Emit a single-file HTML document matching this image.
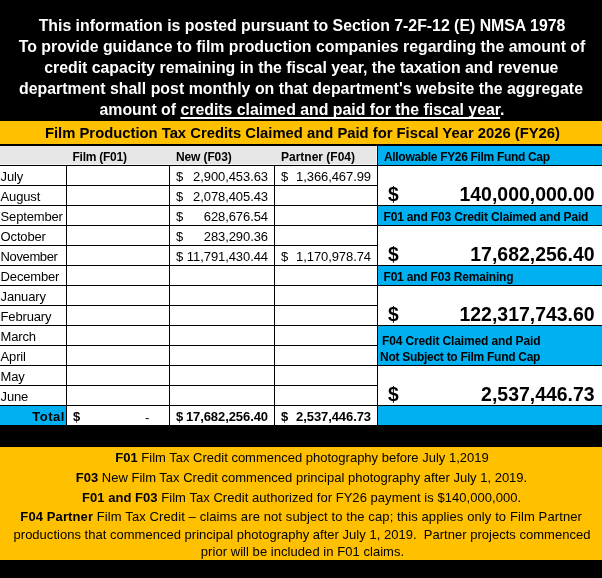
<!DOCTYPE html>
<html><head><meta charset="utf-8">
<style>
html,body{margin:0;padding:0;background:#000;}
body{width:602px;height:578px;position:relative;overflow:hidden;font-family:"Liberation Sans",Arial,sans-serif;color:#000;}
.a{position:absolute;white-space:pre;line-height:1;}
.hl{position:absolute;background:#000;height:1px;}
.vl{position:absolute;background:#000;width:1px;}
.t{color:#fff;font-weight:bold;font-size:15.85px;left:1px;width:602px;text-align:center;}
.m{font-size:13px;left:0.6px;letter-spacing:-0.16px;}
.n{font-size:13px;text-align:right;letter-spacing:-0.08px;}
.d{font-size:13px;}
.h{font-weight:bold;font-size:12px;}
.bl{font-weight:bold;font-size:12px;left:384px;}
.bd{font-weight:bold;font-size:19.3px;left:388px;}
.bn{font-weight:bold;font-size:19.45px;text-align:right;right:7.4px;}
.f{font-size:13px;left:0;width:602px;text-align:center;}
b{font-weight:bold;}
</style></head><body>
<!-- title -->
<div class="a t" style="top:18px">This information is posted pursuant to Section 7-2F-12 (E) NMSA 1978</div>
<div class="a t" style="top:39px">To provide guidance to film production companies regarding the amount of</div>
<div class="a t" style="top:60px;left:0.3px">credit capacity remaining in the fiscal year, the taxation and revenue</div>
<div class="a t" style="top:81px;left:0;letter-spacing:0.03px">department shall post monthly on that department's website the aggregate</div>
<div class="a t" style="top:102px">amount of <span style="text-decoration:underline;text-decoration-thickness:2px;text-underline-offset:2px;text-decoration-skip-ink:none">credits claimed and paid for the fiscal year</span>.</div>
<!-- yellow title -->
<div class="a" style="left:0;top:121px;width:602px;height:23px;background:#FFC000"></div>
<div class="a" style="left:0;top:125.6px;width:605px;text-align:center;font-weight:bold;font-size:14.8px">Film Production Tax Credits Claimed and Paid for Fiscal Year 2026 (FY26)</div>
<!-- table bg -->
<div class="a" style="left:0;top:146px;width:602px;height:279px;background:#fff"></div>
<div class="a" style="left:0;top:146px;width:377px;height:19px;background:#F5F4F4"></div>
<div class="a" style="left:0;top:146px;width:376px;height:18px;background:#E7E6E6"></div>
<!-- blue -->
<div class="a" style="left:378px;top:146px;width:224px;height:19px;background:#00B0F0"></div>
<div class="a" style="left:378px;top:206px;width:224px;height:19px;background:#00B0F0"></div>
<div class="a" style="left:378px;top:266px;width:224px;height:19px;background:#00B0F0"></div>
<div class="a" style="left:378px;top:326px;width:224px;height:39px;background:#00B0F0"></div>
<div class="a" style="left:378px;top:406px;width:224px;height:19px;background:#00B0F0"></div>
<div class="a" style="left:0;top:406px;width:66px;height:19px;background:#00B0F0"></div>
<!-- grid lines -->
<div class="vl" style="left:66px;top:166px;height:259px"></div>
<div class="vl" style="left:169px;top:166px;height:259px"></div>
<div class="vl" style="left:274px;top:166px;height:259px"></div>
<div class="vl" style="left:377px;top:146px;height:279px"></div>
<div class="hl" style="left:0;top:165px;width:602px"></div>
<div class="hl" style="left:0;top:185px;width:377px"></div>
<div class="hl" style="left:0;top:205px;width:602px"></div>
<div class="hl" style="left:0;top:225px;width:602px"></div>
<div class="hl" style="left:0;top:245px;width:377px"></div>
<div class="hl" style="left:0;top:265px;width:602px"></div>
<div class="hl" style="left:0;top:285px;width:602px"></div>
<div class="hl" style="left:0;top:305px;width:377px"></div>
<div class="hl" style="left:0;top:325px;width:602px"></div>
<div class="hl" style="left:0;top:345px;width:377px"></div>
<div class="hl" style="left:0;top:365px;width:602px"></div>
<div class="hl" style="left:0;top:385px;width:377px"></div>
<div class="hl" style="left:0;top:405px;width:602px"></div>
<!-- header labels -->
<div class="a h" style="left:72.5px;top:151px;letter-spacing:-0.25px">Film (F01)</div>
<div class="a h" style="left:176px;top:151px;letter-spacing:-0.12px">New (F03)</div>
<div class="a h" style="left:281px;top:151px">Partner (F04)</div>
<!-- months -->
<div class="a m" style="top:170px">July</div>
<div class="a m" style="top:190px">August</div>
<div class="a m" style="top:210px">September</div>
<div class="a m" style="top:230px">October</div>
<div class="a m" style="top:250px;letter-spacing:-0.38px">November</div>
<div class="a m" style="top:270px">December</div>
<div class="a m" style="top:290px">January</div>
<div class="a m" style="top:310px">February</div>
<div class="a m" style="top:330px">March</div>
<div class="a m" style="top:350px">April</div>
<div class="a m" style="top:370px">May</div>
<div class="a m" style="top:390px">June</div>
<div class="a m" style="top:410px;font-weight:bold;left:32.3px;letter-spacing:0.5px">Total</div>
<!-- New column -->
<div class="a d" style="left:176px;top:170px">$</div><div class="a n" style="left:170px;width:98px;top:170px">2,900,453.63</div>
<div class="a d" style="left:176px;top:190px">$</div><div class="a n" style="left:170px;width:98px;top:190px">2,078,405.43</div>
<div class="a d" style="left:176px;top:210px">$</div><div class="a n" style="left:170px;width:98px;top:210px">628,676.54</div>
<div class="a d" style="left:176px;top:230px">$</div><div class="a n" style="left:170px;width:98px;top:230px">283,290.36</div>
<div class="a d" style="left:176px;top:250px">$</div><div class="a n" style="left:170px;width:98px;top:250px">11,791,430.44</div>
<div class="a d" style="left:176px;top:410px;font-weight:bold">$</div><div class="a n" style="left:170px;width:98px;top:410px;font-weight:bold">17,682,256.40</div>
<!-- Partner column -->
<div class="a d" style="left:281px;top:170px">$</div><div class="a n" style="left:275px;width:96px;top:170px">1,366,467.99</div>
<div class="a d" style="left:281px;top:250px">$</div><div class="a n" style="left:275px;width:96px;top:250px">1,170,978.74</div>
<div class="a d" style="left:281px;top:410px;font-weight:bold">$</div><div class="a n" style="left:275px;width:96px;top:410px;font-weight:bold">2,537,446.73</div>
<!-- Film total -->
<div class="a d" style="left:73px;top:410px;font-weight:bold">$</div><div class="a d" style="left:145px;top:411px;font-weight:normal">-</div>
<!-- blue labels -->
<div class="a bl" style="top:151px;left:384px;letter-spacing:-0.32px">Allowable FY26 Film Fund Cap</div>
<div class="a bl" style="top:211px;left:383.5px;letter-spacing:-0.17px">F01 and F03 Credit Claimed and Paid</div>
<div class="a bl" style="top:271px;left:383.5px;letter-spacing:-0.2px">F01 and F03 Remaining</div>
<div class="a bl" style="top:335px;left:382px;letter-spacing:-0.135px">F04 Credit Claimed and Paid</div>
<div class="a bl" style="top:351px;left:380px;letter-spacing:-0.28px">Not Subject to Film Fund Cap</div>
<!-- big numbers -->
<div class="a bd" style="top:185px">$</div><div class="a bn" style="top:185px">140,000,000.00</div>
<div class="a bd" style="top:245px">$</div><div class="a bn" style="top:245px">17,682,256.40</div>
<div class="a bd" style="top:305px">$</div><div class="a bn" style="top:305px">122,317,743.60</div>
<div class="a bd" style="top:385px">$</div><div class="a bn" style="top:385px">2,537,446.73</div>
<!-- footer -->
<div class="a" style="left:0;top:447px;width:602px;height:113px;background:#FFC000"></div>
<div class="a f" style="top:451px;left:1px"><b>F01</b> Film Tax Credit commenced photography before July 1,2019</div>
<div class="a f" style="top:471px;left:0.5px"><b>F03</b> New Film Tax Credit commenced principal photography after July 1, 2019.</div>
<div class="a f" style="top:491px;left:0.6px;letter-spacing:0.04px"><b>F01 and F03</b> Film Tax Credit authorized for FY26 payment is $140,000,000.</div>
<div class="a f" style="top:510px;left:0.2px;letter-spacing:0.108px"><b>F04 Partner</b> Film Tax Credit – claims are not subject to the cap; this applies only to Film Partner</div>
<div class="a f" style="top:528px;left:1px;letter-spacing:0.018px">productions that commenced principal photography after July 1, 2019.  Partner projects commenced</div>
<div class="a f" style="top:545px;left:1.5px;letter-spacing:0.05px">prior will be included in F01 claims.</div>
</body></html>
